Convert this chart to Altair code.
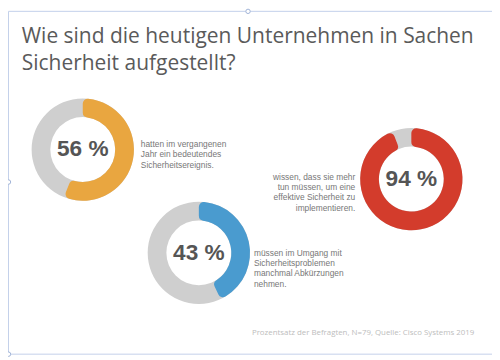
import altair as alt
import pandas as pd

# ---- data ----
values = [56, 43, 94]
percent_labels = ["56 %", "43 %", "94 %"]
descriptions = [
    ["hatten im vergangenen", "Jahr ein bedeutendes", "Sicherheitsereignis."],
    ["müssen im Umgang mit", "Sicherheitsproblemen", "manchmal Abkürzungen", "nehmen."],
    ["wissen, dass sie mehr", "tun müssen, um eine", "effektive Sicherheit zu", "implementieren."],
]
colors = ["#E9A640", "#4A9BCF", "#D33C2C"]
title_lines = ["Wie sind die heutigen Unternehmen in Sachen", "Sicherheit aufgestellt?"]
source_note = "Prozentsatz der Befragten, N=79, Quelle: Cisco Systems 2019"

# ---- layout (reference pixel coordinates) ----
centers_x = [84, 202, 418]
centers_y = [149, 254, 179]
desc_x = [143, 258, 361]
desc_y = [143.5, 254, 176.5]
desc_align = ["left", "left", "right"]
title_x = [22, 22]
title_y = [41, 68.5]
note_x, note_y = 482, 335

W, H = 492, 352
XS = alt.Scale(domain=[8, 500], range=[0, W], nice=False, zero=False)
YS = alt.Scale(domain=[8, 360], range=[0, H], nice=False, zero=False)
TS = alt.Scale(domain=[0, 100], range=[0, 6.283185307179586])


def X(f):
    return alt.X(f, type="quantitative", scale=XS, axis=None)


def Y(f):
    return alt.Y(f, type="quantitative", scale=YS, axis=None)


ring_df = pd.DataFrame({"cx": centers_x, "cy": centers_y, "t0": [0] * 3, "t1": [100] * 3})
val_df = pd.DataFrame({"cx": centers_x, "cy": centers_y, "t0": [0] * 3, "t1": values, "color": colors})
pct_df = pd.DataFrame({"cx": centers_x, "cy": centers_y, "label": percent_labels})
desc_df = pd.DataFrame({
    "x": desc_x, "y": desc_y, "align": desc_align,
    "text": ["\n".join(d) for d in descriptions],
})
title_df = pd.DataFrame({"x": title_x, "y": title_y, "text": title_lines})
note_df = pd.DataFrame({"x": [note_x], "y": [note_y], "text": [source_note]})

frame_df = pd.DataFrame({
    "x": [8.5, 8.5, 8.5], "x2": [500, 8.5, 500],
    "y": [8.5, 8.5, 357], "y2": [8.5, 357, 357],
})
handle_df = pd.DataFrame({"x": [252, 8.5, 8.5], "y": [8.5, 182, 357]})

OUTER, INNER = 52, 33

ring = alt.Chart(ring_df).mark_arc(outerRadius=OUTER, innerRadius=INNER, color="#CFCFCF").encode(
    x=X("cx"), y=Y("cy"),
    theta=alt.Theta("t0:Q", scale=TS, stack=None), theta2="t1",
)
arcs = alt.Chart(val_df).mark_arc(outerRadius=OUTER, innerRadius=INNER, cornerRadius=5).encode(
    x=X("cx"), y=Y("cy"),
    theta=alt.Theta("t0:Q", scale=TS, stack=None), theta2="t1",
    color=alt.Color("color:N", scale=None),
)
pct = alt.Chart(pct_df).mark_text(
    font="Liberation Sans", fontSize=23, fontWeight="bold", color="#555555", baseline="middle", align="center"
).encode(x=X("cx"), y=Y("cy"), text="label:N")

desc_left = alt.Chart(desc_df).transform_filter("datum.align == 'left'").mark_text(
    font="Liberation Sans", fontSize=8.5, color="#777777", align="left", baseline="middle",
    lineBreak="\n", lineHeight=10.5,
).encode(x=X("x"), y=Y("y"), text="text:N")
desc_right = alt.Chart(desc_df).transform_filter("datum.align == 'right'").mark_text(
    font="Liberation Sans", fontSize=8.5, color="#777777", align="right", baseline="middle",
    lineBreak="\n", lineHeight=10.5,
).encode(x=X("x"), y=Y("y"), text="text:N")

title = alt.Chart(title_df).mark_text(
    font="Open Sans", fontSize=21.3, color="#5a5a5a", align="left", baseline="alphabetic",
).encode(x=X("x"), y=Y("y"), text="text:N")

note = alt.Chart(note_df).mark_text(
    font="Open Sans", fontSize=8, color="#BDBDBD", align="right", baseline="middle",
).encode(x=X("x"), y=Y("y"), text="text:N")

frame = alt.Chart(frame_df).mark_rule(color="#C3D0EA", strokeWidth=1).encode(
    x=X("x"), x2="x2", y=Y("y"), y2="y2",
)
handles = alt.Chart(handle_df).mark_point(
    shape="circle", filled=True, fill="#FFFFFF", stroke="#9FB2D6", strokeWidth=1, size=20, opacity=1
).encode(x=X("x"), y=Y("y"))

chart = alt.layer(frame, handles, ring, arcs, pct, desc_left, desc_right, title, note).properties(
    width=W, height=H, autosize=alt.AutoSizeParams(type="none"), padding=0, background="white",
).configure_view(stroke=None)

chart.save("out.html", embed_options={"renderer": "svg", "actions": False})
